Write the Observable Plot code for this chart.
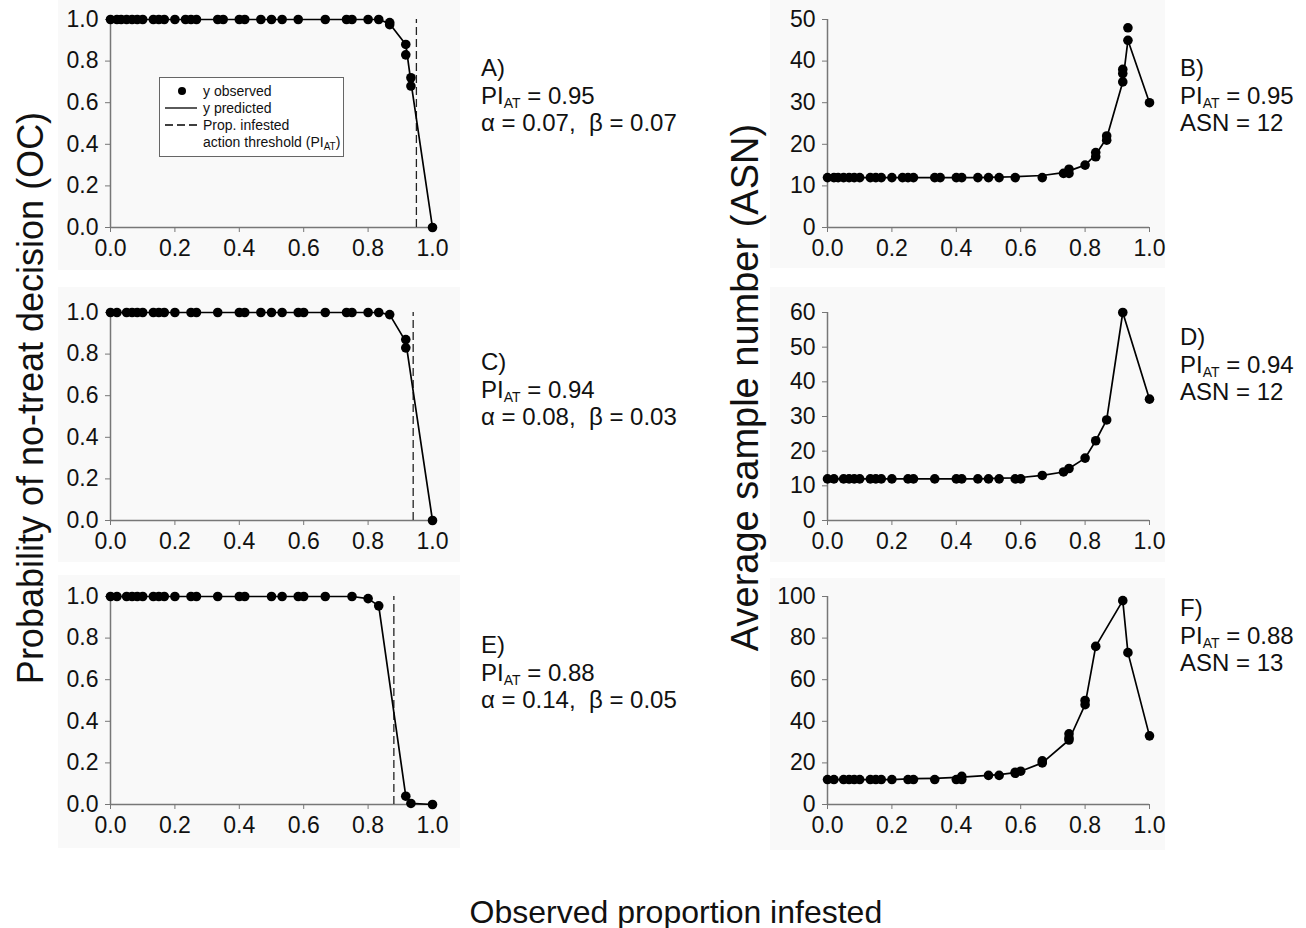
<!DOCTYPE html>
<html><head><meta charset="utf-8">
<script src="https://cdn.jsdelivr.net/npm/d3@7"></script>
<script src="https://cdn.jsdelivr.net/npm/@observablehq/plot@0.6"></script>
<style>
body{margin:0;background:#fff;font-family:"Liberation Sans",Arial,sans-serif;color:#111}
#root{position:relative;width:1306px;height:928px;overflow:hidden;background:#fff}
.bg{position:absolute;background:#f9f9f9}
.panel{position:absolute}
.ann{position:absolute;font-size:24px;line-height:27.5px;white-space:pre;color:#111}
.sub{font-size:14px;vertical-align:-4px;line-height:0}
.title{position:absolute;white-space:nowrap;color:#111}
.legend{position:absolute;border:1px solid #666;background:#fff;font-size:14px;line-height:17px;color:#111}
.legend .sub2{font-size:10px;vertical-align:-3px;line-height:0}
</style></head><body><div id="root"></div>
<script>
// ---------------- data ----------------
// Panel A (OC, PI_AT = 0.95)
const aObsX = [0,0.02,0.033,0.05,0.067,0.083,0.1,0.133,0.15,0.167,0.2,0.233,0.25,0.267,0.333,0.35,0.4,0.417,0.467,0.5,0.533,0.583,0.667,0.733,0.75,0.8,0.833,0.867,0.867,0.917,0.917,0.933,0.933,1.0];
const aObsY = [1,1,1,1,1,1,1,1,1,1,1,1,1,1,1,1,1,1,1,1,1,1,1,1,1,1,1,0.985,0.975,0.88,0.83,0.72,0.68,0];
const aPredX = [0,0.02,0.033,0.05,0.067,0.083,0.1,0.133,0.15,0.167,0.2,0.233,0.25,0.267,0.333,0.35,0.4,0.417,0.467,0.5,0.533,0.583,0.667,0.733,0.75,0.8,0.833,0.867,0.917,0.933,1.0];
const aPredY = [1,1,1,1,1,1,1,1,1,1,1,1,1,1,1,1,1,1,1,1,1,1,1,1,1,1,1,0.98,0.88,0.70,0];
// Panel B (ASN)
const bObsX = [0,0.02,0.033,0.05,0.067,0.083,0.1,0.133,0.15,0.167,0.2,0.233,0.25,0.267,0.333,0.35,0.4,0.417,0.467,0.5,0.533,0.583,0.667,0.733,0.75,0.75,0.8,0.833,0.833,0.867,0.867,0.917,0.917,0.917,0.933,0.933,1.0];
const bObsY = [12,12,12,12,12,12,12,12,12,12,12,12,12,12,12,12,12,12,12,12,12,12,12,13,14,13,15,18,17,22,21,38,37,35,48,45,30];
const bPredX = [0,0.02,0.033,0.05,0.067,0.083,0.1,0.133,0.15,0.167,0.2,0.233,0.25,0.267,0.333,0.35,0.4,0.417,0.467,0.5,0.533,0.583,0.667,0.733,0.75,0.8,0.833,0.867,0.917,0.933,1.0];
const bPredY = [12,12,12,12,12,12,12,12,12,12,12,12,12,12,12,12,12,12,12,12.05,12.1,12.2,12.5,13.2,13.6,15,17.5,21.5,35,45,30];
// Panel C (OC, PI_AT = 0.94)
const cObsX = [0,0.02,0.05,0.067,0.083,0.1,0.133,0.15,0.167,0.2,0.25,0.267,0.333,0.4,0.417,0.467,0.5,0.533,0.583,0.6,0.667,0.733,0.75,0.8,0.833,0.867,0.917,0.917,1.0];
const cObsY = [1,1,1,1,1,1,1,1,1,1,1,1,1,1,1,1,1,1,1,1,1,1,1,1,1,0.99,0.87,0.83,0];
const cPredX = [0,0.02,0.05,0.067,0.083,0.1,0.133,0.15,0.167,0.2,0.25,0.267,0.333,0.4,0.417,0.467,0.5,0.533,0.583,0.6,0.667,0.733,0.75,0.8,0.833,0.867,0.917,1.0];
const cPredY = [1,1,1,1,1,1,1,1,1,1,1,1,1,1,1,1,1,1,1,1,1,1,1,1,1,0.99,0.86,0];
// Panel D (ASN)
const dObsX = [0,0.02,0.05,0.067,0.083,0.1,0.133,0.15,0.167,0.2,0.25,0.267,0.333,0.4,0.417,0.467,0.5,0.533,0.583,0.6,0.667,0.733,0.75,0.8,0.833,0.867,0.917,1.0];
const dObsY = [12,12,12,12,12,12,12,12,12,12,12,12,12,12,12,12,12,12,12,12,13,14,15,18,23,29,60,35];
const dPredX = [0,0.02,0.05,0.067,0.083,0.1,0.133,0.15,0.167,0.2,0.25,0.267,0.333,0.4,0.417,0.467,0.5,0.533,0.583,0.6,0.667,0.733,0.75,0.8,0.833,0.867,0.917,1.0];
const dPredY = [12,12,12,12,12,12,12,12,12,12,12,12,12,12,12,12,12.1,12.2,12.3,12.4,13,14,15,18,23,29,60,35];
// Panel E (OC, PI_AT = 0.88)
const eObsX = [0,0.02,0.05,0.067,0.083,0.1,0.133,0.15,0.167,0.2,0.25,0.267,0.333,0.4,0.417,0.5,0.533,0.583,0.6,0.667,0.75,0.8,0.833,0.917,0.933,1.0];
const eObsY = [1,1,1,1,1,1,1,1,1,1,1,1,1,1,1,1,1,1,1,1,1,0.99,0.955,0.04,0.005,0];
const ePredX = [0,0.02,0.05,0.067,0.083,0.1,0.133,0.15,0.167,0.2,0.25,0.267,0.333,0.4,0.417,0.5,0.533,0.583,0.6,0.667,0.75,0.8,0.833,0.917,0.933,1.0];
const ePredY = [1,1,1,1,1,1,1,1,1,1,1,1,1,1,1,1,1,1,1,1,1,0.99,0.955,0.04,0.005,0];
// Panel F (ASN)
const fObsX = [0,0.02,0.05,0.067,0.083,0.1,0.133,0.15,0.167,0.2,0.25,0.267,0.333,0.4,0.417,0.417,0.5,0.533,0.583,0.583,0.6,0.667,0.667,0.75,0.75,0.75,0.8,0.8,0.833,0.917,0.933,1.0];
const fObsY = [12,12,12,12,12,12,12,12,12,12,12,12,12,12,13.5,12,14,14,15,15.5,16,21,20,34,32,31,50,48,76,98,73,33];
const fPredX = [0,0.02,0.05,0.067,0.083,0.1,0.133,0.15,0.167,0.2,0.25,0.267,0.333,0.4,0.417,0.5,0.533,0.583,0.6,0.667,0.75,0.8,0.833,0.917,0.933,1.0];
const fPredY = [12,12,12,12,12,12,12,12,12,12,12.3,12.4,12.6,13,13.2,14,14.4,15.3,16,20,31,48,76,98,73,33];

const xTicks = [0,0.2,0.4,0.6,0.8,1.0];
const ocTicks = [0,0.2,0.4,0.6,0.8,1.0];
const bTicks = [0,10,20,30,40,50];
const dTicks = [0,10,20,30,40,50,60];
const fTicks = [0,20,40,60,80,100];
const thresholds = {A:0.95, C:0.94, E:0.88};

const labels = {
  A:["A)", "0.95", "α = 0.07,  β = 0.07"],
  C:["C)", "0.94", "α = 0.08,  β = 0.03"],
  E:["E)", "0.88", "α = 0.14,  β = 0.05"],
  B:["B)", "0.95", "ASN = 12"],
  D:["D)", "0.94", "ASN = 12"],
  F:["F)", "0.88", "ASN = 13"]
};
const yTitleLeft = "Probability of no-treat decision (OC)";
const yTitleRight = "Average sample number (ASN)";
const xTitle = "Observed proportion infested";
const legendItems = ["y observed", "y predicted", "Prop. infested", "action threshold (PI", "AT", ")"];

// ---------------- drawing ----------------
const root = document.getElementById("root");
const zip = (xs, ys) => xs.map((x, i) => ({x, y: ys[i]}));
const FONT = '"Liberation Sans", Arial, sans-serif';

// faint panel backgrounds
[[58,0,402,270],[58,287,402,275],[58,575,402,273],[770,0,395,268],[770,287,395,275],[770,578,395,272]].forEach(([l,t,w,h]) => {
  const d = document.createElement("div"); d.className = "bg";
  Object.assign(d.style, {left:l+"px", top:t+"px", width:w+"px", height:h+"px"});
  root.appendChild(d);
});

function panel({obsX, obsY, predX, predY, ymax, yTicks, yFmt, thr, left, top}) {
  const ML = 50, MR = 30, MT = 10, MB = 40;
  const W = 322 + ML + MR, H = 208 + MT + MB;
  const marks = [
    Plot.ruleY([0], {stroke: "#777", strokeWidth: 1.5}),
    Plot.ruleX([0], {stroke: "#777", strokeWidth: 1.5}),
    Plot.axisX({ticks: xTicks, tickFormat: d3.format(".1f"), tickSize: 5, tickPadding: 7, stroke: "#777", fill: "#111", label: null}),
    Plot.axisY({ticks: yTicks, tickFormat: yFmt, tickSize: 5, tickPadding: 7, stroke: "#777", fill: "#111", label: null})
  ];
  if (thr != null) marks.push(Plot.ruleX([thr], {y1: 0, y2: 1, stroke: "#222", strokeWidth: 1.3, strokeDasharray: "8,4"}));
  marks.push(Plot.line(zip(predX, predY), {x: "x", y: "y", stroke: "#000", strokeWidth: 1.7}));
  marks.push(Plot.dot(zip(obsX, obsY), {x: "x", y: "y", r: 4.8, fill: "#000", stroke: "none"}));
  const svg = Plot.plot({
    width: W, height: H, marginLeft: ML, marginRight: MR, marginTop: MT, marginBottom: MB,
    style: {fontFamily: FONT, fontSize: "23px", background: "transparent", color: "#111", overflow: "visible"},
    x: {domain: [0, 1]},
    y: {domain: [0, ymax]},
    marks
  });
  const wrap = document.createElement("div");
  wrap.className = "panel";
  wrap.style.left = (left - ML) + "px";
  wrap.style.top = (top - MT) + "px";
  wrap.appendChild(svg);
  root.appendChild(wrap);
}

const f1 = d3.format(".1f"), f0 = d3.format("d");
panel({obsX:aObsX, obsY:aObsY, predX:aPredX, predY:aPredY, ymax:1, yTicks:ocTicks, yFmt:f1, thr:thresholds.A, left:110, top:19});
panel({obsX:cObsX, obsY:cObsY, predX:cPredX, predY:cPredY, ymax:1, yTicks:ocTicks, yFmt:f1, thr:thresholds.C, left:110, top:312});
panel({obsX:eObsX, obsY:eObsY, predX:ePredX, predY:ePredY, ymax:1, yTicks:ocTicks, yFmt:f1, thr:thresholds.E, left:110, top:596});
panel({obsX:bObsX, obsY:bObsY, predX:bPredX, predY:bPredY, ymax:50, yTicks:bTicks, yFmt:f0, thr:null, left:827, top:19});
panel({obsX:dObsX, obsY:dObsY, predX:dPredX, predY:dPredY, ymax:60, yTicks:dTicks, yFmt:f0, thr:null, left:827, top:312});
panel({obsX:fObsX, obsY:fObsY, predX:fPredX, predY:fPredY, ymax:100, yTicks:fTicks, yFmt:f0, thr:null, left:827, top:596});

// annotations
function ann(key, left, top) {
  const [a, pi, third] = labels[key];
  const d = document.createElement("div"); d.className = "ann";
  d.style.left = left + "px"; d.style.top = top + "px";
  d.innerHTML = `${a}<br>PI<span class="sub">AT</span> = ${pi}<br>${third}`;
  root.appendChild(d);
}
ann("A", 481, 54); ann("C", 481, 348); ann("E", 481, 631);
ann("B", 1180, 54); ann("D", 1180, 323); ann("F", 1180, 594);

// legend (panel A)
const lg = document.createElement("div"); lg.className = "legend";
Object.assign(lg.style, {left: "159px", top: "77px", width: "183px", height: "78px"});
lg.innerHTML = `
<svg width="40" height="70" style="position:absolute;left:4px;top:4px">
  <circle cx="18" cy="9" r="4" fill="#000"/>
  <line x1="1" x2="33" y1="26" y2="26" stroke="#000" stroke-width="1.3"/>
  <line x1="1" x2="33" y1="43" y2="43" stroke="#000" stroke-width="1.3" stroke-dasharray="8,4"/>
</svg>
<div style="position:absolute;left:43px;top:5px;white-space:nowrap">${legendItems[0]}<br>${legendItems[1]}<br>${legendItems[2]}<br>${legendItems[3]}<span class="sub2">${legendItems[4]}</span>${legendItems[5]}</div>`;
root.appendChild(lg);

// axis titles
function title(text, cx, cy, rot, size) {
  const d = document.createElement("div"); d.className = "title"; d.textContent = text;
  d.style.fontSize = size + "px";
  root.appendChild(d);
  const w = d.offsetWidth, h = d.offsetHeight;
  d.style.left = (cx - w / 2) + "px"; d.style.top = (cy - h / 2) + "px";
  if (rot) d.style.transform = "rotate(-90deg)";
}
title(yTitleLeft, 31, 398, true, 36);
title(yTitleRight, 745, 387, true, 38);
title(xTitle, 676, 912, false, 32);
</script></body></html>
